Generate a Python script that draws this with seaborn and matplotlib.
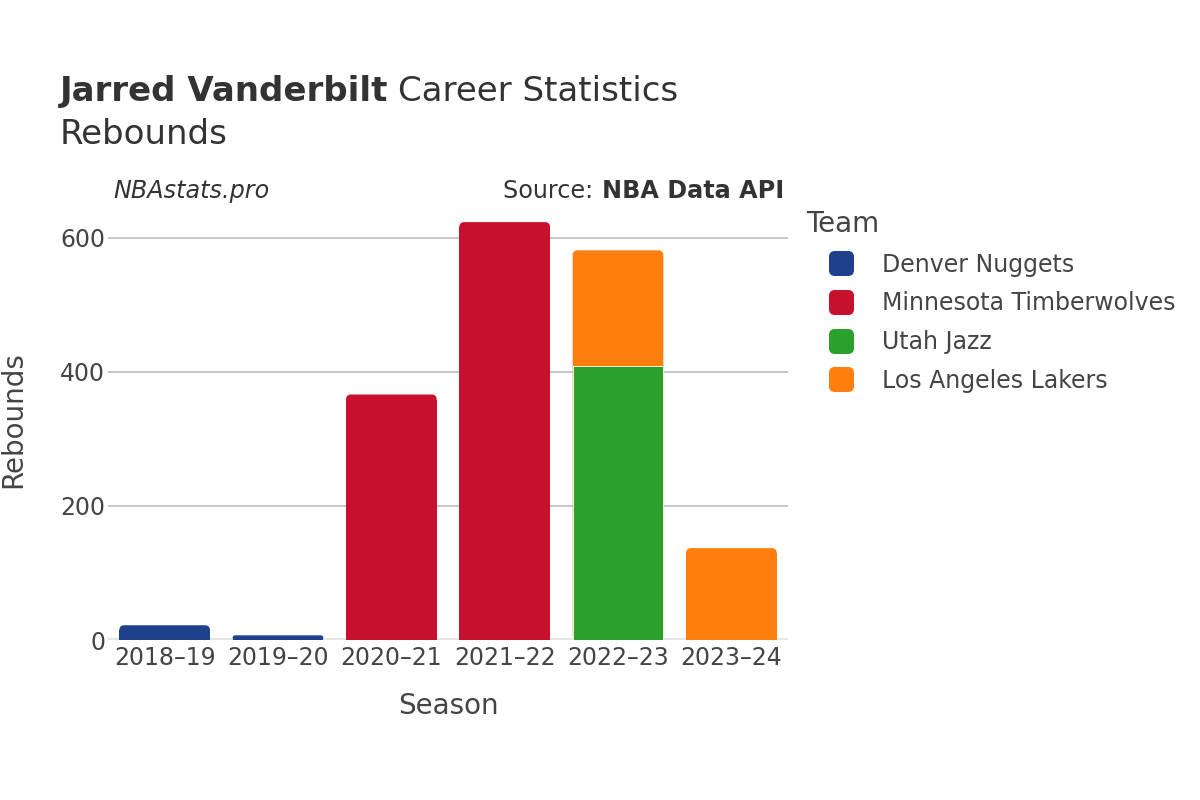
import matplotlib
matplotlib.use("Agg")
import matplotlib.pyplot as plt
from matplotlib.lines import Line2D
from matplotlib.patches import FancyBboxPatch
import pandas as pd
import seaborn as sns

seasons = ["2018–19", "2019–20", "2020–21", "2021–22", "2022–23", "2023–24"]
teams = ["Denver Nuggets", "Minnesota Timberwolves", "Utah Jazz", "Los Angeles Lakers"]
team_colors = ["#1d428a", "#c8102e", "#2ca02c", "#ff7f0e"]
denver = [22, 7, 0, 0, 0, 0]
minnesota = [0, 0, 366, 623, 0, 0]
utah = [0, 0, 0, 0, 409, 0]
lakers = [0, 0, 0, 0, 172, 137]
team_values = [denver, minnesota, utah, lakers]

# stack tops per team (bottom-to-top in team order)
rows = []
running = [0] * len(seasons)
for team, vals in zip(teams, team_values):
    for i, v in enumerate(vals):
        running[i] += v
        if v > 0:
            rows.append({"season": seasons[i], "team": team, "top": running[i]})
df = pd.DataFrame(rows)

sns.set_style("white")
plt.rcParams["font.family"] = ["DejaVu Sans"]
text_color = "#444444"
dark = "#333333"

W, H = 1200, 800
fig = plt.figure(figsize=(12, 8), dpi=100)
ax = fig.add_axes([108 / W, 1 - 640 / H, 680 / W, 440 / H])

# draw upper layers first so lower segments sit on top of them
for team, color in reversed(list(zip(teams, team_colors))):
    sub = df[df["team"] == team]
    sns.barplot(data=sub, x="season", y="top", order=seasons, color=color,
                width=0.8, edgecolor="white", linewidth=0.6, saturation=1, ax=ax)

ymax = 656
ax.set_ylim(0, ymax)
ax.set_xlim(-0.5, 5.5)

# round the top corners of the highest segment in each column
px_x = 680 / 6.0
px_y = 440 / ymax
r_px = 5
tallest = {}
for p in ax.patches:
    key = round(p.get_x() + p.get_width() / 2, 3)
    if key not in tallest or p.get_height() > tallest[key].get_height():
        tallest[key] = p
for p in tallest.values():
    x0, w, h = p.get_x(), p.get_width(), p.get_height()
    ry = min(r_px / px_y, h / 2)
    rx = ry * px_y / px_x
    rounded = FancyBboxPatch((x0, 0), w, h,
                             boxstyle=f"round,pad=0,rounding_size={rx}",
                             mutation_aspect=px_x / px_y,
                             facecolor=p.get_facecolor(), edgecolor="none",
                             zorder=0.9)
    p.set_height(h - ry)
    p.set_edgecolor("none")
    p.set_zorder(0.9)
    ax.add_patch(rounded)

ax.set_yticks([0, 200, 400, 600])
ax.yaxis.grid(True, color="#bdbdbd", linewidth=1.2)
ax.set_axisbelow(True)
ax.yaxis.get_gridlines()[0].set_visible(False)
ax.axhline(0, color="#e6e6e6", linewidth=3, zorder=0.5)
for s in ax.spines.values():
    s.set_visible(False)
ax.tick_params(axis="x", length=0, labelsize=17, labelcolor=text_color, pad=4)
ax.tick_params(axis="y", length=0, labelsize=17, labelcolor=text_color, pad=2)
ax.set_xlabel("Season", fontsize=20, color=text_color, labelpad=16)
ax.set_ylabel("Rebounds", fontsize=20, color=text_color, labelpad=24)

fig.canvas.draw()
renderer = fig.canvas.get_renderer()

t1 = fig.text(60 / W, 1 - 101 / H, "Jarred Vanderbilt", fontsize=24.5,
              fontweight="bold", color=dark)
bb = t1.get_window_extent(renderer)
fig.text((bb.x1 + 10) / W, 1 - 101 / H, "Career Statistics", fontsize=24.5, color=dark)
fig.text(60 / W, 1 - 144 / H, "Rebounds", fontsize=24.5, color=dark)

fig.text(113 / W, 1 - 198 / H, "NBAstats.pro", fontsize=17.2, style="italic", color=dark)
t2 = fig.text(784 / W, 1 - 198 / H, "NBA Data API", fontsize=17.2,
              fontweight="bold", color=dark, ha="right")
bb2 = t2.get_window_extent(renderer)
fig.text((bb2.x0 - 1) / W, 1 - 198 / H, "Source: ", fontsize=17.2, color=dark, ha="right")

# rounded-square legend markers
rsq = FancyBboxPatch((-0.5, -0.5), 1, 1, boxstyle="round,pad=0,rounding_size=0.22").get_path()
handles = [Line2D([0], [0], marker=rsq, linestyle="", markersize=17,
                  markerfacecolor=c, markeredgecolor=c) for c in team_colors]
leg = fig.legend(handles, teams, title="Team", loc="upper left",
                 bbox_to_anchor=(806 / W, 1 - 210 / H), frameon=False, fontsize=17,
                 title_fontsize=20, labelspacing=0.62, handletextpad=0.22,
                 handlelength=3.0, borderaxespad=0, borderpad=0)
leg._legend_box.align = "left"
for t in leg.get_texts():
    t.set_color(text_color)
leg.get_title().set_color(text_color)

fig.savefig("out.png", dpi=100)
